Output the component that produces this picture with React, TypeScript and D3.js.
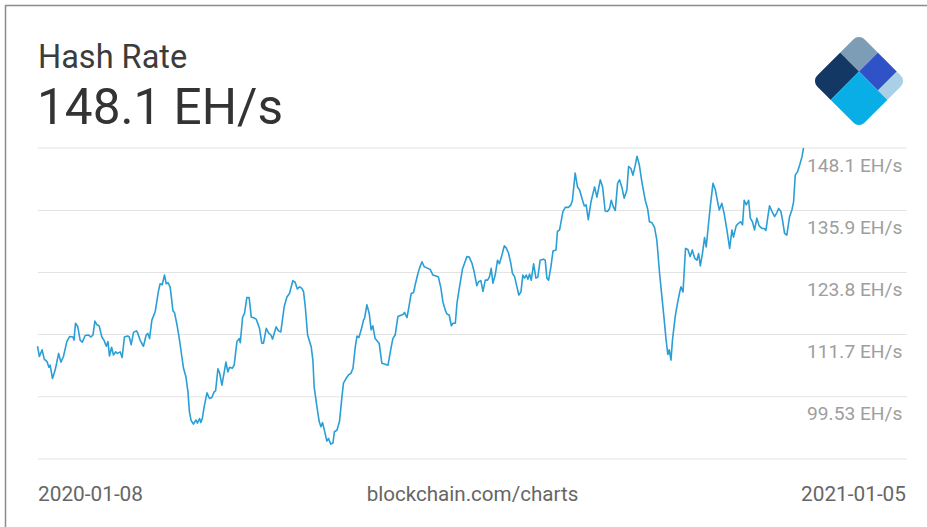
import React from 'react';
import * as d3 from 'd3';

const W = 927;
const H = 527;

const startDate = new Date(2020, 0, 8);
const endDate = new Date(2021, 0, 5);

// [days since 2020-01-08, hash rate in EH/s]
const samples: [number, number][] = [
  [0,109.4],[0.9,107.4],[2.2,108.7],[3.2,106.9],[4.5,106.4],[5.4,105.3],[6.0,105.7],[7.1,103.1],[8.4,104.8],[10.0,108.0],[11.1,106.3],[12.3,107.4],[13.9,110.3],[15.2,111.3],[16.8,111.2],[17.3,110.6],[18.0,113.9],[19.1,113.2],[20.2,110.6],[21.2,110.2],[22.6,111.5],[24.2,111.6],[25.3,111.2],[26.3,111.6],[27.2,114.3],[28.1,113.6],[29.2,113.4],[30.5,111.2],[31.6,110.5],[32.6,109.4],[33.4,110.3],[34.1,107.5],[35.1,109.2],[36.0,107.7],[37.0,108.3],[37.9,108.0],[39.2,108.3],[40.1,107.2],[41.2,111.2],[42.7,111.4],[43.5,111.2],[44.4,109.7],[45.5,112.1],[46.8,112.4],[47.4,112.1],[48.7,110.5],[50.2,109.4],[51.5,111.6],[52.3,111.9],[53.1,110.9],[54.2,114.5],[55.8,116.2],[57.3,120.1],[58.1,121.6],[59.1,121.4],[60.2,123.3],[61.0,121.6],[61.9,121.8],[62.9,120.9],[64.2,116.3],[64.9,116.0],[66.1,113.6],[67.3,110.6],[68.4,107.4],[69.2,105.1],[70.3,103.5],[71.3,100.5],[72.0,96.6],[72.8,94.9],[73.9,94.2],[75.1,95.0],[75.8,94.4],[76.8,95.3],[77.4,94.5],[78.1,95.3],[79.0,97.6],[80.3,100.3],[81.5,99.2],[82.6,99.4],[83.7,100.5],[84.4,100.7],[85.5,105.0],[86.3,104.2],[87.4,101.8],[89.3,106.3],[90.2,104.4],[91.0,105.3],[92.3,105.1],[93.2,105.7],[94.5,110.3],[95.6,110.9],[96.1,110.1],[97.2,115.1],[98.1,115.8],[99.2,118.9],[100.3,118.9],[101.3,115.1],[102.7,114.9],[103.6,114.7],[105.2,112.9],[106.3,110.0],[107.1,110.0],[108.4,112.9],[109.5,112.0],[110.6,111.6],[111.4,110.8],[113.1,113.2],[114.2,112.4],[115.3,112.2],[116.9,117.1],[118.2,119.0],[119.4,119.7],[121.0,122.2],[122.1,121.9],[123.1,120.6],[124.2,121.0],[125.3,120.7],[126.1,120.0],[126.9,117.1],[128.0,111.6],[129.7,109.3],[130.5,106.7],[131.1,101.5],[132.4,97.6],[133.5,94.7],[134.3,93.7],[135.1,94.5],[136.3,92.4],[137.1,90.9],[137.9,91.4],[139.0,90.3],[140.0,90.5],[140.7,92.7],[141.9,93.0],[143.1,94.7],[144.3,99.6],[145.0,102.2],[146.2,103.1],[147.4,103.8],[148.5,104.1],[149.5,105.1],[150.6,109.3],[151.4,111.4],[152.3,111.1],[153.4,112.6],[154.5,114.5],[155.0,114.9],[156.1,117.5],[157.2,115.8],[158.1,112.6],[158.9,113.4],[160.0,110.9],[161.9,110.0],[163.2,106.1],[164.8,105.9],[166.1,105.7],[167.5,109.0],[168.4,110.9],[169.5,111.6],[170.8,115.2],[171.9,115.4],[173.2,115.6],[173.9,116.0],[175.1,115.0],[175.8,116.6],[177.1,119.7],[178.2,119.9],[179.0,121.4],[180.1,123.3],[181.0,124.6],[182.2,125.9],[183.3,124.9],[184.5,124.7],[186.1,124.4],[187.4,123.3],[188.8,123.1],[190.0,122.9],[191.2,120.7],[192.1,118.1],[193.2,116.5],[194.0,115.7],[195.1,115.5],[196.1,113.4],[196.9,113.9],[198.0,113.9],[198.8,117.8],[199.5,119.7],[200.3,121.7],[201.4,124.5],[202.7,126.0],[203.5,126.9],[204.6,126.8],[205.9,125.6],[206.9,124.0],[208.2,121.2],[209.0,122.0],[210.1,122.2],[211.1,120.1],[212.2,122.3],[213.3,122.3],[214.2,123.0],[215.0,124.6],[215.8,121.7],[216.9,123.3],[218.0,126.2],[218.9,125.5],[220.1,127.2],[221.2,129.0],[222.1,128.6],[223.2,127.6],[224.3,125.6],[225.1,123.6],[226.1,123.0],[227.2,121.0],[228.1,119.4],[229.1,120.0],[230.0,123.3],[230.8,122.7],[231.6,123.3],[232.4,122.5],[233.2,123.5],[234.0,122.3],[235.1,125.5],[236.2,122.7],[237.1,122.9],[238.2,126.2],[239.8,126.4],[240.6,126.2],[241.4,122.7],[242.2,122.3],[243.3,124.9],[244.3,128.0],[245.7,128.2],[246.4,131.8],[247.4,132.1],[249.0,135.7],[250.1,136.5],[251.6,136.5],[252.8,137.0],[253.5,137.9],[254.8,143.2],[255.9,140.5],[256.9,139.9],[258.0,138.3],[259.1,136.8],[260.0,137.0],[261.0,134.1],[262.3,137.6],[264.0,140.5],[265.1,138.5],[266.7,141.9],[267.8,140.5],[269.0,135.8],[270.1,135.7],[271.1,136.3],[271.9,137.9],[273.0,136.5],[273.8,135.9],[274.9,141.2],[275.8,141.9],[276.9,140.5],[278.0,138.3],[279.3,139.9],[280.1,144.5],[281.2,144.1],[282.2,142.8],[283.3,144.8],[284.1,146.5],[285.2,144.8],[286.4,141.5],[288.0,137.9],[289.1,136.3],[290.0,133.7],[291.2,133.5],[292.4,132.6],[293.5,130.1],[294.8,123.6],[295.9,119.1],[297.0,114.5],[297.9,110.6],[298.7,107.8],[299.4,108.7],[300.2,106.7],[300.9,110.6],[302.2,115.2],[303.3,117.8],[304.2,119.7],[304.9,121.0],[305.9,120.0],[306.5,124.3],[307.1,128.5],[308.2,128.3],[309.3,126.9],[310.3,128.2],[311.4,126.6],[312.5,126.2],[313.3,127.5],[314.1,125.1],[315.1,127.5],[316.1,130.6],[316.9,128.8],[317.7,132.1],[318.8,136.6],[320.1,141.2],[321.2,140.0],[322.3,137.6],[323.1,136.0],[324.3,137.3],[325.4,135.3],[326.7,132.1],[328.0,128.5],[329.1,132.1],[329.8,130.7],[331.1,132.9],[332.2,133.4],[333.3,133.7],[334.1,133.1],[334.9,137.9],[335.9,137.0],[337.0,137.9],[337.8,134.4],[338.8,133.7],[339.8,132.1],[340.9,134.4],[342.0,132.9],[343.3,132.4],[344.4,132.4],[345.2,132.0],[346.0,134.4],[346.9,136.8],[348.1,135.7],[349.3,134.7],[350.4,135.5],[351.2,136.3],[352.3,135.7],[353.2,133.7],[354.0,131.5],[355.1,131.1],[356.4,134.7],[357.5,136.0],[358.3,137.6],[359.1,142.8],[360.2,143.5],[361.2,144.8],[362.3,146.4],[363.0,148.1]
];

const gridValues = [87.39, 99.53, 111.7, 123.8, 135.9, 148.1];
const tickLabels = ['', '99.53 EH/s', '111.7 EH/s', '123.8 EH/s', '135.9 EH/s', '148.1 EH/s'];

const title = 'Hash Rate';
const currentValue = '148.1 EH/s';
const startLabel = '2020-01-08';
const endLabel = '2021-01-05';
const sourceLabel = 'blockchain.com/charts';

const FONT = 'Roboto, "Noto Sans", Arial, sans-serif';

export default function App() {
  const x = d3.scaleTime().domain([startDate, endDate]).range([37.5, 803.5]);
  const y = d3.scaleLinear().domain([87.39, 148.1]).range([459, 148]);
  const dayMs = 86400000;
  const line = d3
    .line<[number, number]>()
    .x((d) => x(new Date(startDate.getTime() + d[0] * dayMs)))
    .y((d) => y(d[1]));

  const s = 67;
  const lx = (f: number) => -s / 2 + f * s;

  return (
    <div style={{ position: 'absolute', left: 0, top: 0, width: W, height: H, background: '#fff' }}>
      <svg width={W} height={H} style={{ display: 'block' }}>
        <rect x={0} y={0} width={W} height={H} fill="#fff" />
        <line x1={5} y1={5.5} x2={W} y2={5.5} stroke="#8c8c8c" strokeWidth={1.5} />
        <line x1={5.5} y1={5} x2={5.5} y2={H} stroke="#8c8c8c" strokeWidth={1.5} />

        <text x={38} y={68} fontFamily={FONT} fontSize={32.5} fill="#3c3c3c">{title}</text>
        <text x={37} y={124} fontFamily={FONT} fontSize={49.5} fill="#333">{currentValue}</text>

        <defs>
          <clipPath id="logoClip">
            <rect x={-s / 2} y={-s / 2} width={s} height={s} rx={8} ry={8} />
          </clipPath>
        </defs>
        <g transform="translate(859,81) rotate(45)" clipPath="url(#logoClip)">
          <rect x={lx(0)} y={lx(0)} width={0.4 * s} height={0.4 * s} fill="#7d9cb5" />
          <rect x={lx(0)} y={lx(0.4)} width={0.4 * s} height={0.6 * s} fill="#133863" />
          <rect x={lx(0.4)} y={lx(0)} width={0.4 * s} height={0.4 * s} fill="#2f52c6" />
          <rect x={lx(0.8)} y={lx(0)} width={0.2 * s} height={0.4 * s} fill="#a9d0e6" />
          <rect x={lx(0.4)} y={lx(0.4)} width={0.6 * s} height={0.6 * s} fill="#0aaee6" />
        </g>

        {gridValues.map((v, i) => (
          <g key={i}>
            <line x1={38} x2={907} y1={y(v)} y2={y(v)} stroke="#e3e3e3" strokeWidth={1} />
            {tickLabels[i] && (
              <text x={807} y={y(v) + 23.5} fontFamily={FONT} fontSize={19.2} fill="#9e9e9e">{tickLabels[i]}</text>
            )}
          </g>
        ))}

        <path d={line(samples) || ''} fill="none" stroke="#2a9fd6" strokeWidth={1.6} strokeLinejoin="round" />

        <text x={38} y={501} fontFamily={FONT} fontSize={20.8} fill="#666">{startLabel}</text>
        <text x={472.5} y={501} fontFamily={FONT} fontSize={20.6} fill="#666" textAnchor="middle">{sourceLabel}</text>
        <text x={906} y={501} fontFamily={FONT} fontSize={20.8} fill="#666" textAnchor="end">{endLabel}</text>
      </svg>
    </div>
  );
}
